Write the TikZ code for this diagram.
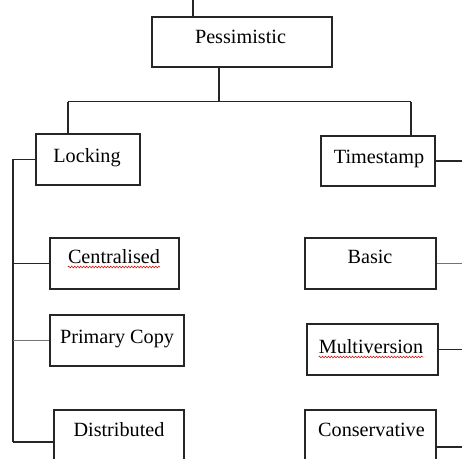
\documentclass[tikz,border=0pt]{standalone}
\usepackage{fontspec}
\setmainfont{Liberation Serif}
\usetikzlibrary{decorations.pathmorphing}
\tikzset{
  box/.style={draw=black!85, line width=1.3pt, rectangle, inner sep=0pt},
  lbl/.style={inner sep=0pt, anchor=base, font=\fontsize{20.2}{22}\selectfont},
  wire/.style={draw=black!85, line width=1.2pt},
  softwire/.style={draw=black!55, line width=1.2pt},
  spell/.style={draw=red!85!black, line width=0.5pt,
    decorate, decoration={snake, segment length=3pt, amplitude=0.9pt}}
}
\begin{document}
\begin{tikzpicture}[x=1pt, y=-1pt]
\useasboundingbox (0,0) rectangle (462,458);
\clip (0,0) rectangle (462,458);

% boxes
\node[box, minimum width=180pt, minimum height=50pt] (pes) at (242,42) {};
\node[box, minimum width=104pt, minimum height=51pt] (lock) at (88,159.5) {};
\node[box, minimum width=114pt, minimum height=50pt] (ts) at (378,161) {};
\node[box, minimum width=129pt, minimum height=51pt] (cen) at (114.5,263.5) {};
\node[box, minimum width=134pt, minimum height=51pt] (pc) at (117,340.5) {};
\node[box, minimum width=130pt, minimum height=64pt] (dis) at (119,442) {};
\node[box, minimum width=131pt, minimum height=51pt] (bas) at (370.5,263.5) {};
\node[box, minimum width=131pt, minimum height=51pt] (mv) at (372.5,349.5) {};
\node[box, minimum width=131pt, minimum height=74pt] (con) at (370.5,447) {};

% labels
\node[lbl] (pest) at (240.5,43) {Pessimistic};
\node[lbl] (lockt) at (87,162) {Locking};
\node[lbl] (tst) at (379,163) {Timestamp};
\node[lbl] (cent) at (114,263) {Centralised};
\node[lbl] (pct) at (117,343) {Primary Copy};
\node[lbl] (dist) at (119,436) {Distributed};
\node[lbl] (bast) at (370,263) {Basic};
\node[lbl] (mvt) at (371,353) {Multiversion};
\node[lbl] (cont) at (371.5,436) {Conservative};

% spelling marks under two words
\draw[spell] ([yshift=-4pt]cent.base west) -- ([yshift=-4pt]cent.base east);
\draw[spell] ([yshift=-4pt]mvt.base west) -- ([yshift=-4pt]mvt.base east);

% junction points
\coordinate (top) at (193,0);
\coordinate (jn) at (219,101.5);
\coordinate (lj) at (68,101.5);
\coordinate (rj) at (411,101.5);
\coordinate (bus) at (13,0);
\coordinate (edge) at (462,0);

% upper tree
\draw[wire] (top) -- (top |- pes.north);
\draw[wire] (pes.south -| jn) -- (jn);
\draw[wire] (lj) -- (rj);
\draw[wire] (lj) -- (lj |- lock.north);
\draw[wire] (rj) -- (rj |- ts.north);

% locking branch
\draw[wire] (lock.west) -- (lock.west -| bus) -- (bus |- dis.west);
\draw[wire] (bus |- dis.west) -- (dis.west);
\draw[wire] (bus |- cen.west) -- (cen.west);
\draw[softwire] (bus |- pc.west) -- (pc.west);

% timestamp branch
\draw[wire] (ts.east) -- (ts.east -| edge);
\draw[softwire] (bas.east) -- (bas.east -| edge);
\draw[wire] (mv.east) -- (mv.east -| edge);
\draw[wire] (con.east) -- (con.east -| edge);
\end{tikzpicture}
\end{document}
